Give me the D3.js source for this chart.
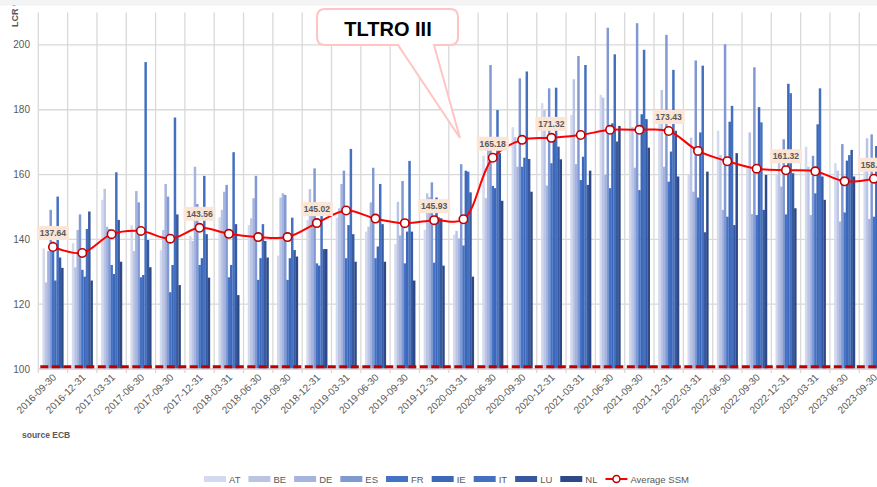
<!DOCTYPE html>
<html>
<head>
<meta charset="utf-8">
<script src="https://cdn.jsdelivr.net/npm/d3@7"></script>
<style>
  body { margin: 0; background: #fff; }
  svg { display: block; font-family: "Liberation Sans", Arial, sans-serif; }
</style>
</head>
<body>
<svg id="chart" width="877" height="487"></svg>
<script>
(function() {
    'use strict';

    // quarters
    var dates = ["2016-09-30", "2016-12-31", "2017-03-31", "2017-06-30", "2017-09-30", "2017-12-31",
        "2018-03-31", "2018-06-30", "2018-09-30", "2018-12-31", "2019-03-31", "2019-06-30",
        "2019-09-30", "2019-12-31", "2020-03-31", "2020-06-30", "2020-09-30", "2020-12-31",
        "2021-03-31", "2021-06-30", "2021-09-30", "2021-12-31", "2022-03-31", "2022-06-30",
        "2022-09-30", "2022-12-31", "2023-03-31", "2023-06-30", "2023-09-30"];

    // LCR per country (%)
    var AT = [137.2, 138.8, 152.2, 144.4, 136.7, 141.0, 146.8, 144.4, 135.0, 146.0, 146.7, 142.4, 138.6, 142.9, 141.4,
        165.8, 174.6, 182.0, 178.4, 184.6, 179.9, 178.4, 159.9, 173.5, 162.4, 159.9, 168.6, 163.5, 163.5];
    var BE = [126.7, 131.4, 155.6, 136.4, 142.9, 139.5, 149.1, 146.5, 152.9, 155.5, 149.6, 143.9, 151.6, 154.2, 142.6,
        152.7, 171.5, 179.9, 189.4, 183.7, 174.6, 186.1, 171.4, 166.0, 173.0, 165.5, 162.4, 161.2, 171.2];
    var DE = [136.4, 142.9, 143.9, 154.9, 157.1, 162.4, 154.7, 152.7, 154.2, 148.0, 157.1, 151.4, 141.2, 153.0, 140.3,
        169.4, 162.4, 156.6, 163.2, 159.9, 162.1, 162.4, 154.7, 149.1, 147.8, 156.3, 147.5, 145.5, 146.3];
    var ES = [149.1, 147.7, 143.2, 151.4, 153.2, 150.9, 156.8, 159.6, 153.7, 161.9, 161.2, 162.1, 158.0, 157.6, 163.2,
        193.8, 189.7, 186.6, 196.6, 205.3, 206.7, 203.1, 195.2, 200.2, 193.1, 170.9, 165.8, 169.4, 172.4];
    var FR = [139.3, 130.6, 132.1, 128.3, 123.7, 132.1, 128.3, 127.5, 127.5, 132.6, 134.2, 134.2, 132.6, 132.8, 138.1,
        156.5, 162.4, 163.5, 158.3, 155.8, 155.2, 157.8, 152.9, 147.0, 147.5, 147.7, 154.2, 148.3, 147.0];
    var IE = [127.3, 128.5, 129.3, 129.0, 132.1, 134.2, 132.1, 134.2, 134.2, 131.9, 144.4, 137.8, 142.4, 152.9, 161.2,
        155.8, 165.2, 171.2, 165.5, 175.8, 178.6, 167.1, 173.0, 176.3, 180.8, 188.0, 175.5, 164.3, 168.8];
    var IT = [153.2, 143.2, 160.7, 194.7, 177.6, 159.6, 166.9, 144.7, 146.7, 148.5, 167.9, 157.1, 164.2, 146.8, 160.9,
        179.9, 191.8, 186.8, 193.8, 197.1, 198.5, 192.3, 193.6, 181.2, 176.1, 185.1, 186.6, 166.0, 175.0];
    var LU = [134.4, 148.6, 146.0, 139.8, 147.7, 141.6, 144.7, 139.5, 136.7, 137.0, 141.6, 144.7, 142.4, 146.5, 154.5,
        166.6, 164.8, 168.6, 156.8, 170.2, 177.1, 173.5, 142.2, 144.4, 149.1, 160.4, 159.4, 167.6, 165.0];
    var NL = [131.2, 127.3, 133.1, 131.4, 125.9, 128.2, 122.8, 134.4, 134.7, 137.0, 133.1, 133.1, 127.3, 131.9, 128.5,
        151.9, 154.7, 164.7, 161.2, 175.0, 168.3, 159.4, 160.9, 166.6, 159.9, 149.6, 152.2, 159.4, 160.0];

    var avgSSM = [137.64, 135.8, 141.6, 142.6, 140.2, 143.56, 141.7, 140.7, 140.7, 145.02, 148.9, 146.4, 145.0, 145.93,
        146.2, 165.18, 170.7, 171.32, 172.2, 173.8, 173.8, 173.43, 167.3, 164.1, 161.8, 161.32, 161.0, 157.9, 158.72];
    var labelledPoints = [0, 5, 9, 13, 15, 17, 21, 25, 28];
    var minLine = 100.7;
    var yTicks = [100, 120, 140, 160, 180, 200];

    var countries = ["AT", "BE", "DE", "ES", "FR", "IE", "IT", "LU", "NL"];
    var seriesValues = { AT: AT, BE: BE, DE: DE, ES: ES, FR: FR, IE: IE, IT: IT, LU: LU, NL: NL };
    var colors = { AT: "#d3d9ee", BE: "#bac5e5", DE: "#a5b4de", ES: "#8199d3", FR: "#4472c4",
        IE: "#3d68ba", IT: "#4470c0", LU: "#36599f", NL: "#2e4a86" };

    var svg = d3.select("#chart");
    var plotLeft = 38.3, step = 29.32, plotTop = 12.5, plotBottom = 369;

    var x = d3.scaleBand().domain(dates).range([plotLeft, plotLeft + step * dates.length]);
    var groupW = x.step() / 1.4;
    var groupOff = (x.step() - groupW) / 2;
    var xSub = d3.scaleBand().domain(countries).range([0, groupW]);
    var y = d3.scaleLinear().domain([100, 210]).range([plotBottom, plotTop]);

    var grid = svg.append("g").attr("class", "grid");
    grid.selectAll("line.h")
        .data(yTicks)
        .enter().append("line")
        .attr("class", "h")
        .attr("x1", plotLeft).attr("x2", 877)
        .attr("y1", function(d) { return y(d); })
        .attr("y2", function(d) { return y(d); })
        .attr("stroke", "#d9d9d9").attr("stroke-width", 1.3);
    grid.selectAll("line.v")
        .data(dates)
        .enter().append("line")
        .attr("class", "v")
        .attr("x1", function(d) { return x(d); })
        .attr("x2", function(d) { return x(d); })
        .attr("y1", plotTop).attr("y2", plotBottom + 4)
        .attr("stroke", "#d9d9d9").attr("stroke-width", 1.3);

    // y tick labels
    svg.append("g").selectAll("text")
        .data(yTicks)
        .enter().append("text")
        .attr("x", 30)
        .attr("y", function(d) { return y(d) + 3.5; })
        .attr("text-anchor", "end")
        .attr("font-size", "10px")
        .attr("fill", "#595959")
        .text(function(d) { return d; });

    // bars
    countries.forEach(function(c) {
        svg.append("g").attr("class", "bars-" + c)
            .selectAll("rect")
            .data(seriesValues[c])
            .enter().append("rect")
            .attr("x", function(d, i) { return x(dates[i]) + groupOff + xSub(c); })
            .attr("width", xSub.bandwidth() + 0.15)
            .attr("y", function(d) { return y(d); })
            .attr("height", function(d) { return plotBottom - y(d); })
            .attr("fill", colors[c]);
    });

    // axis line
    svg.append("line")
        .attr("x1", plotLeft).attr("x2", 877)
        .attr("y1", plotBottom).attr("y2", plotBottom)
        .attr("stroke", "#d9d9d9").attr("stroke-width", 1.3);

    // 100% minimum
    svg.append("line")
        .attr("x1", plotLeft + 2).attr("x2", 877)
        .attr("y1", y(minLine)).attr("y2", y(minLine))
        .attr("stroke", "#c00000").attr("stroke-width", 3)
        .attr("stroke-dasharray", "8,3.5");

    // x labels
    svg.append("g").selectAll("text")
        .data(dates)
        .enter().append("text")
        .attr("transform", function(d) {
            return "translate(" + (x(d) + x.bandwidth() / 2 + 4) + "," + (plotBottom + 9) + ") rotate(-45)";
        })
        .attr("text-anchor", "end")
        .attr("font-size", "10px")
        .attr("fill", "#595959")
        .text(function(d) { return d; });

    // average line
    var cx = function(i) { return x(dates[i]) + x.bandwidth() / 2; };
    var line = d3.line()
        .x(function(d, i) { return cx(i); })
        .y(function(d) { return y(d); })
        .curve(d3.curveCatmullRom.alpha(0.5));
    svg.append("path")
        .datum(avgSSM)
        .attr("d", line)
        .attr("fill", "none")
        .attr("stroke", "#ff0000")
        .attr("stroke-width", 2);
    svg.append("g").selectAll("circle")
        .data(avgSSM)
        .enter().append("circle")
        .attr("cx", function(d, i) { return cx(i); })
        .attr("cy", function(d) { return y(d); })
        .attr("r", 4.2)
        .attr("fill", "#fff")
        .attr("stroke", "#c00000")
        .attr("stroke-width", 1.6);

    // data labels
    var lbl = svg.append("g").selectAll("g")
        .data(labelledPoints)
        .enter().append("g")
        .attr("transform", function(i) { return "translate(" + cx(i) + "," + (y(avgSSM[i]) - 14) + ")"; });
    lbl.append("rect")
        .attr("x", -16).attr("y", -7).attr("width", 32).attr("height", 14)
        .attr("fill", "#fbe5d6");
    lbl.append("text")
        .attr("y", 3)
        .attr("text-anchor", "middle")
        .attr("font-size", "8.6px")
        .attr("font-weight", "bold")
        .attr("fill", "#595959")
        .text(function(i) { return avgSSM[i].toFixed(2); });

    // TLTRO III callout
    svg.append("path")
        .attr("d", "M325,9 H450 Q458,9 458,17 V37 Q458,45 450,45 H434 L460,138 L398,45 H325 Q317,45 317,37 V17 Q317,9 325,9 Z")
        .attr("fill", "#fff")
        .attr("stroke", "#ffc4c4")
        .attr("stroke-width", 2);
    svg.append("text")
        .attr("x", 388).attr("y", 36)
        .attr("text-anchor", "middle")
        .attr("font-size", "20px")
        .attr("font-weight", "bold")
        .attr("fill", "#000")
        .text("TLTRO III");

    // top band and axis title
    svg.append("text")
        .attr("transform", "translate(18,27) rotate(-90)")
        .attr("font-size", "9px")
        .attr("font-weight", "bold")
        .attr("fill", "#595959")
        .text("LCR %");
    svg.append("rect")
        .attr("x", 0).attr("y", 0).attr("width", 877).attr("height", 5.5)
        .attr("fill", "#f4f4f4");

    svg.append("text")
        .attr("x", 22).attr("y", 438)
        .attr("font-size", "8.5px")
        .attr("font-weight", "bold")
        .attr("fill", "#595959")
        .text("source ECB");

    // legend
    var legend = svg.append("g").attr("class", "legend");
    var lx = 204, ly = 479;
    countries.forEach(function(c) {
        legend.append("rect")
            .attr("x", lx).attr("y", ly - 3).attr("width", 22).attr("height", 6)
            .attr("fill", colors[c]);
        var t = legend.append("text")
            .attr("x", lx + 25).attr("y", ly + 3.5)
            .attr("font-size", "9.5px")
            .attr("fill", "#595959")
            .text(c);
        lx += 25 + t.node().getComputedTextLength() + 8;
    });
    legend.append("line")
        .attr("x1", lx).attr("x2", lx + 22)
        .attr("y1", ly).attr("y2", ly)
        .attr("stroke", "#ff0000").attr("stroke-width", 2);
    legend.append("circle")
        .attr("cx", lx + 11).attr("cy", ly).attr("r", 3.5)
        .attr("fill", "#fff").attr("stroke", "#c00000").attr("stroke-width", 1.5);
    legend.append("text")
        .attr("x", lx + 25).attr("y", ly + 3.5)
        .attr("font-size", "9.5px")
        .attr("fill", "#595959")
        .text("Average SSM");
})();
</script>
</body>
</html>
